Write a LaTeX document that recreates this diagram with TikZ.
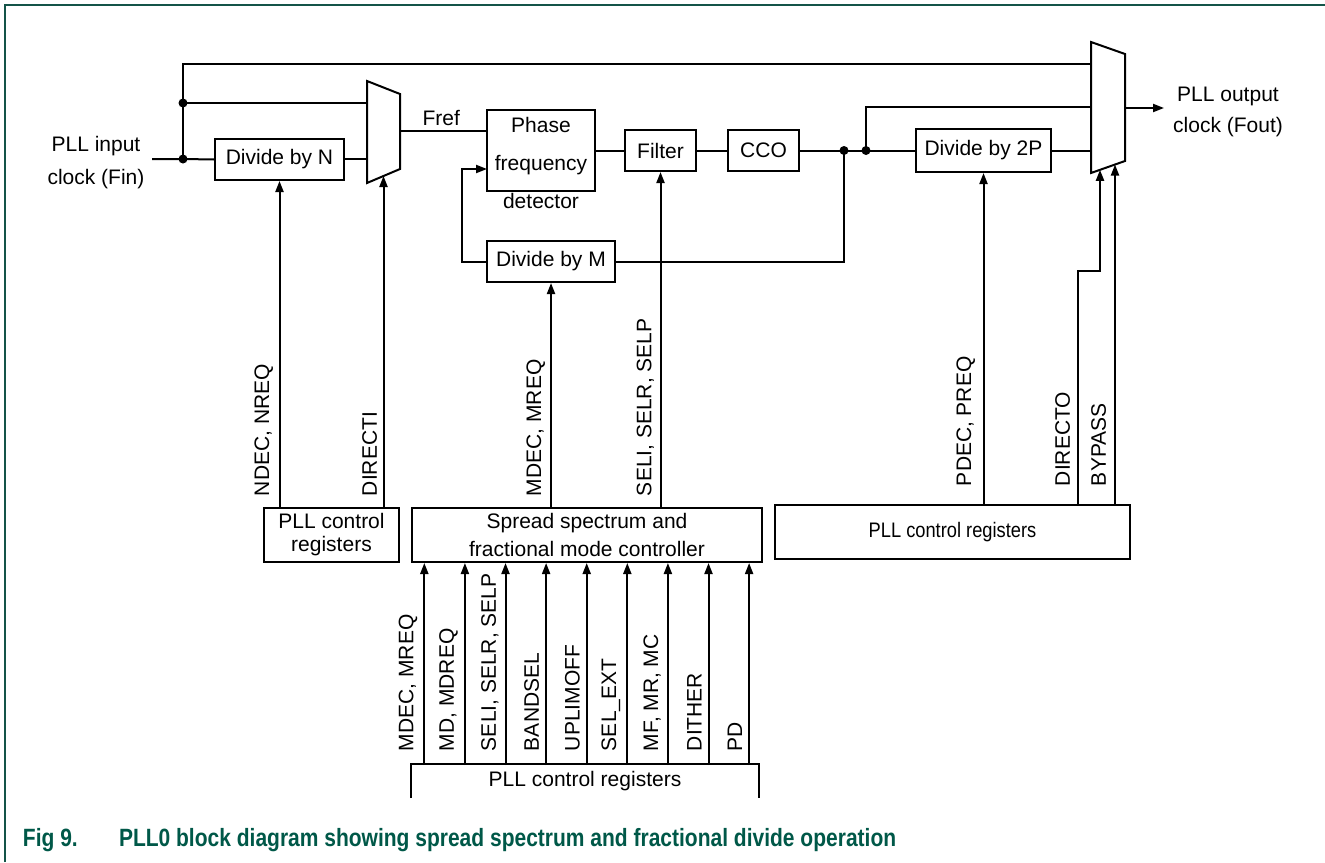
\documentclass[tikz,border=0pt]{standalone}
\usepackage{fontspec}
\setmainfont{Liberation Sans}
\newfontfamily\narrowfont[FakeStretch=0.87]{Liberation Sans}
\newfontfamily\capfont[FakeStretch=0.84]{Liberation Sans}
\usetikzlibrary{arrows.meta}
\definecolor{capgreen}{RGB}{0,88,72}
\definecolor{framegreen}{RGB}{20,84,72}

\begin{document}
\begin{tikzpicture}[x=1pt, y=-1pt, line width=2pt,
  >={Triangle[length=11pt,width=8pt]},
  every node/.style={font=\fontsize{21}{25}\selectfont},
  blk/.style={draw, minimum height=41pt, inner sep=0pt},
  regbox/.style={draw, minimum height=54pt, inner sep=0pt, align=center},
  sig/.style={rotate=90, anchor=south west, inner sep=3pt}]

  \newcommand\YSIG{500}
  \newcommand\YSIGR{490}
  \newcommand\YBOT{755}

  \useasboundingbox (0,0) rectangle (1325,862);
  \draw[framegreen, line width=1.5pt] (5,862) -- (5,5) -- (1325,5);

  % blocks
  \node[blk, minimum width=129pt] (ndiv) at (279.5,159.5) {Divide by N};
  \node[draw, minimum width=108pt, minimum height=81pt] (pfd) at (541,150.5) {};
  \node[align=center, font=\fontsize{21}{38}\selectfont] (pfdtxt) at (541,163)
    {Phase\\frequency\\detector};
  \node[blk, minimum width=71pt] (filt) at (660.5,150.5) {Filter};
  \node[blk, minimum width=71pt] (cco) at (763.5,150.5) {CCO};
  \node[blk, minimum width=128pt] (mdiv) at (551,261.5) {Divide by M};
  \node[blk, minimum width=135pt, minimum height=43pt] (pdiv) at (983.5,150.5) {Divide by 2P};

  \node[regbox, minimum width=135pt, font=\fontsize{21}{23}\selectfont] (reg1) at (331.5,535)
    {PLL control\\registers};
  \node[regbox, minimum width=350pt, font=\fontsize{21}{28}\selectfont] (ssc) at (587,535)
    {Spread spectrum and\\fractional mode controller};
  \node[regbox, minimum width=355pt, font=\narrowfont\fontsize{21}{25}\selectfont] (reg3) at (952.5,532)
    {PLL control registers};
  \node[minimum width=346pt, minimum height=32pt, inner sep=0pt] (reg4) at (585,781)
    {PLL control registers};
  \draw (reg4.south west) -- (reg4.north west) -- (reg4.north east) -- (reg4.south east);

  % multiplexers
  \coordinate (mux1nw) at (367,81);
  \coordinate (mux1ne) at (400,94);
  \coordinate (mux1se) at (400,169);
  \coordinate (mux1sw) at (367,183);
  \draw (mux1nw) -- (mux1ne) -- (mux1se) -- (mux1sw) -- cycle;
  \coordinate (mux1in1) at (367,103);
  \coordinate (mux1in2) at (367,159);
  \coordinate (mux1out) at (400,131);
  \coordinate (mux1sel) at (383.5,176);

  \coordinate (mux2nw) at (1091,42);
  \coordinate (mux2ne) at (1125,54);
  \coordinate (mux2se) at (1125,161);
  \coordinate (mux2sw) at (1091,173);
  \draw (mux2nw) -- (mux2ne) -- (mux2se) -- (mux2sw) -- cycle;
  \coordinate (mux2in1) at (1091,64);
  \coordinate (mux2in2) at (1091,107);
  \coordinate (mux2in3) at (1091,150.5);
  \coordinate (mux2out) at (1125,108);
  \coordinate (mux2sela) at (1100,169.8);
  \coordinate (mux2selb) at (1115,164.5);

  % clock path
  \coordinate (fin) at (152,159);
  \coordinate (j1) at (183,159);
  \coordinate (j2) at (183,103);
  \coordinate (j3) at (844,150.5);
  \coordinate (j4) at (866,150.5);
  \coordinate (fout) at (1164,108);
  \coordinate (pfdfb) at (487,169);

  \node[align=center, font=\fontsize{21}{33}\selectfont] (inlbl) at (96,163)
    {PLL input\\clock (Fin)};
  \node[align=center, font=\fontsize{21}{31}\selectfont] (outlbl) at (1228,112)
    {PLL output\\clock (Fout)};

  \draw (fin) -- (j1) -- (ndiv.west);
  \draw (j1) |- (mux2in1);
  \draw (j2) -- (mux1in1);
  \draw (ndiv.east |- mux1in2) -- (mux1in2);
  \draw (mux1out) -- node[above=1pt, pos=0.48] (freflbl) {Fref} (pfd.west |- mux1out);
  \draw (pfd.east) -- (filt.west);
  \draw (filt.east) -- (cco.west);
  \draw (cco.east) -- (j4) -- (pdiv.west);
  \draw (j3) |- (mdiv.east);
  \draw[->] (mdiv.west) -- ++(-24,0) |- (pfdfb);
  \draw (j4) |- (mux2in2);
  \draw (pdiv.east) -- (mux2in3);
  \draw[->] (mux2out) -- (fout);
  \foreach \j in {j1,j2,j3,j4}
    \fill (\j) circle (4.5pt);

  % control signals
  \draw[->] (ndiv.south |- reg1.north) -- (ndiv.south);
  \node[sig] at (277,\YSIG) {NDEC, NREQ};
  \draw[->] (mux1sel |- reg1.north) -- (mux1sel);
  \node[sig] at (381,\YSIG) {DIRECTI};
  \draw[->] (mdiv.south |- ssc.north) -- (mdiv.south);
  \node[sig] at (549,\YSIG) {MDEC, MREQ};
  \draw[->] (filt.south |- ssc.north) -- (filt.south);
  \node[sig] at (658,\YSIG) {SELI, SELR, SELP};
  \draw[->] (pdiv.south |- reg3.north) -- (pdiv.south);
  \node[sig] at (979,\YSIGR) {PDEC, PREQ};
  \draw[->] ([xshift=-22pt]mux2sela |- reg3.north) -- ++(0,-233) -| (mux2sela);
  \node[sig] at (1074,\YSIGR) {DIRECTO};
  \draw[->] (mux2selb |- reg3.north) -- (mux2selb);
  \node[sig] at (1110,\YSIGR) {BYPASS};

  \foreach \lbl [count=\i from 0] in {{MDEC, MREQ},{MD, MDREQ},{SELI, SELR, SELP},
      BANDSEL,UPLIMOFF,SEL\_EXT,{MF, MR, MC},DITHER,PD} {
    \coordinate (b\i) at (424.3+40.6*\i,765);
    \draw[->] (b\i) -- (b\i |- ssc.south);
    \node[sig] at (421.3+40.6*\i,\YBOT) {\lbl};
  }

  % caption
  \node[anchor=base west, inner sep=0pt, text=capgreen, font=\capfont\bfseries\fontsize{25}{30}\selectfont]
    (capnum) at (22,846) {Fig 9.};
  \node[anchor=base west, inner sep=0pt, text=capgreen, font=\capfont\bfseries\fontsize{25}{30}\selectfont]
    (captxt) at (118,846) {PLL0 block diagram showing spread spectrum and fractional divide operation};

\end{tikzpicture}
\end{document}
